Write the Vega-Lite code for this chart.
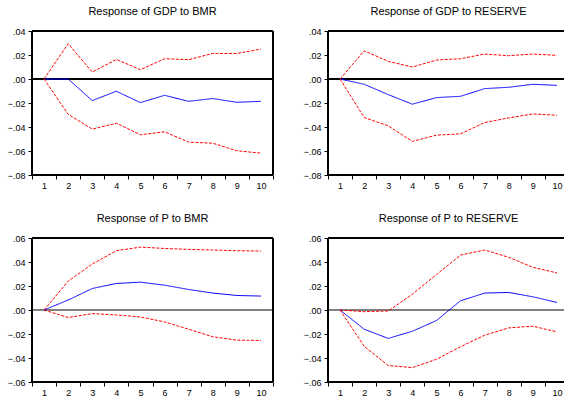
{
  "$schema": "https://vega.github.io/schema/vega-lite/v6.json",
  "autosize": {"type": "none"},
  "padding": {"left": 32, "top": 31, "right": 532, "bottom": 365},
  "background": "white",
  "config": {
    "view": {"stroke": null},
    "font": "Liberation Sans",
    "title": {"font": "Liberation Sans", "fontSize": 11, "fontWeight": "normal", "color": "black", "anchor": "middle", "baseline": "alphabetic", "offset": 10},
    "axis": {"domain": false, "grid": false, "title": null, "tickColor": "black", "tickSize": 4, "labelFont": "Liberation Sans", "labelFontSize": 9, "labelColor": "black", "tickCount": 30}
  },
  "datasets": {
    "irf": [
      {"panel": "p1", "period": 1, "series": "upper", "value": 0},
      {"panel": "p1", "period": 2, "series": "upper", "value": 0.0294},
      {"panel": "p1", "period": 3, "series": "upper", "value": 0.0058},
      {"panel": "p1", "period": 4, "series": "upper", "value": 0.0163},
      {"panel": "p1", "period": 5, "series": "upper", "value": 0.0078},
      {"panel": "p1", "period": 6, "series": "upper", "value": 0.0169},
      {"panel": "p1", "period": 7, "series": "upper", "value": 0.0161},
      {"panel": "p1", "period": 8, "series": "upper", "value": 0.0213},
      {"panel": "p1", "period": 9, "series": "upper", "value": 0.0213},
      {"panel": "p1", "period": 10, "series": "upper", "value": 0.0249},
      {"panel": "p1", "period": 1, "series": "response", "value": 0},
      {"panel": "p1", "period": 2, "series": "response", "value": 0},
      {"panel": "p1", "period": 3, "series": "response", "value": -0.018},
      {"panel": "p1", "period": 4, "series": "response", "value": -0.0102},
      {"panel": "p1", "period": 5, "series": "response", "value": -0.0197},
      {"panel": "p1", "period": 6, "series": "response", "value": -0.0136},
      {"panel": "p1", "period": 7, "series": "response", "value": -0.0186},
      {"panel": "p1", "period": 8, "series": "response", "value": -0.0163},
      {"panel": "p1", "period": 9, "series": "response", "value": -0.0194},
      {"panel": "p1", "period": 10, "series": "response", "value": -0.0186},
      {"panel": "p1", "period": 1, "series": "lower", "value": 0},
      {"panel": "p1", "period": 2, "series": "lower", "value": -0.0294},
      {"panel": "p1", "period": 3, "series": "lower", "value": -0.0418},
      {"panel": "p1", "period": 4, "series": "lower", "value": -0.0368},
      {"panel": "p1", "period": 5, "series": "lower", "value": -0.0465},
      {"panel": "p1", "period": 6, "series": "lower", "value": -0.044},
      {"panel": "p1", "period": 7, "series": "lower", "value": -0.0526},
      {"panel": "p1", "period": 8, "series": "lower", "value": -0.0535},
      {"panel": "p1", "period": 9, "series": "lower", "value": -0.0598},
      {"panel": "p1", "period": 10, "series": "lower", "value": -0.0618},

      {"panel": "p2", "period": 1, "series": "upper", "value": 0},
      {"panel": "p2", "period": 2, "series": "upper", "value": 0.0235},
      {"panel": "p2", "period": 3, "series": "upper", "value": 0.0147},
      {"panel": "p2", "period": 4, "series": "upper", "value": 0.01},
      {"panel": "p2", "period": 5, "series": "upper", "value": 0.0158},
      {"panel": "p2", "period": 6, "series": "upper", "value": 0.0169},
      {"panel": "p2", "period": 7, "series": "upper", "value": 0.0208},
      {"panel": "p2", "period": 8, "series": "upper", "value": 0.0194},
      {"panel": "p2", "period": 9, "series": "upper", "value": 0.0208},
      {"panel": "p2", "period": 10, "series": "upper", "value": 0.0197},
      {"panel": "p2", "period": 1, "series": "response", "value": 0},
      {"panel": "p2", "period": 2, "series": "response", "value": -0.0044},
      {"panel": "p2", "period": 3, "series": "response", "value": -0.013},
      {"panel": "p2", "period": 4, "series": "response", "value": -0.021},
      {"panel": "p2", "period": 5, "series": "response", "value": -0.0155},
      {"panel": "p2", "period": 6, "series": "response", "value": -0.0144},
      {"panel": "p2", "period": 7, "series": "response", "value": -0.008},
      {"panel": "p2", "period": 8, "series": "response", "value": -0.0069},
      {"panel": "p2", "period": 9, "series": "response", "value": -0.0044},
      {"panel": "p2", "period": 10, "series": "response", "value": -0.0053},
      {"panel": "p2", "period": 1, "series": "lower", "value": 0},
      {"panel": "p2", "period": 2, "series": "lower", "value": -0.0321},
      {"panel": "p2", "period": 3, "series": "lower", "value": -0.039},
      {"panel": "p2", "period": 4, "series": "lower", "value": -0.052},
      {"panel": "p2", "period": 5, "series": "lower", "value": -0.0468},
      {"panel": "p2", "period": 6, "series": "lower", "value": -0.0457},
      {"panel": "p2", "period": 7, "series": "lower", "value": -0.0363},
      {"panel": "p2", "period": 8, "series": "lower", "value": -0.0324},
      {"panel": "p2", "period": 9, "series": "lower", "value": -0.0291},
      {"panel": "p2", "period": 10, "series": "lower", "value": -0.0302},

      {"panel": "p3", "period": 1, "series": "upper", "value": 0},
      {"panel": "p3", "period": 2, "series": "upper", "value": 0.024},
      {"panel": "p3", "period": 3, "series": "upper", "value": 0.0383},
      {"panel": "p3", "period": 4, "series": "upper", "value": 0.0494},
      {"panel": "p3", "period": 5, "series": "upper", "value": 0.0524},
      {"panel": "p3", "period": 6, "series": "upper", "value": 0.0513},
      {"panel": "p3", "period": 7, "series": "upper", "value": 0.0505},
      {"panel": "p3", "period": 8, "series": "upper", "value": 0.05},
      {"panel": "p3", "period": 9, "series": "upper", "value": 0.0494},
      {"panel": "p3", "period": 10, "series": "upper", "value": 0.0491},
      {"panel": "p3", "period": 1, "series": "response", "value": 0},
      {"panel": "p3", "period": 2, "series": "response", "value": 0.0083},
      {"panel": "p3", "period": 3, "series": "response", "value": 0.0179},
      {"panel": "p3", "period": 4, "series": "response", "value": 0.0221},
      {"panel": "p3", "period": 5, "series": "response", "value": 0.0232},
      {"panel": "p3", "period": 6, "series": "response", "value": 0.0207},
      {"panel": "p3", "period": 7, "series": "response", "value": 0.0171},
      {"panel": "p3", "period": 8, "series": "response", "value": 0.0141},
      {"panel": "p3", "period": 9, "series": "response", "value": 0.0121},
      {"panel": "p3", "period": 10, "series": "response", "value": 0.0116},
      {"panel": "p3", "period": 1, "series": "lower", "value": 0},
      {"panel": "p3", "period": 2, "series": "lower", "value": -0.0063},
      {"panel": "p3", "period": 3, "series": "lower", "value": -0.003},
      {"panel": "p3", "period": 4, "series": "lower", "value": -0.0041},
      {"panel": "p3", "period": 5, "series": "lower", "value": -0.0058},
      {"panel": "p3", "period": 6, "series": "lower", "value": -0.0099},
      {"panel": "p3", "period": 7, "series": "lower", "value": -0.016},
      {"panel": "p3", "period": 8, "series": "lower", "value": -0.0223},
      {"panel": "p3", "period": 9, "series": "lower", "value": -0.0251},
      {"panel": "p3", "period": 10, "series": "lower", "value": -0.0254},

      {"panel": "p4", "period": 1, "series": "upper", "value": 0},
      {"panel": "p4", "period": 2, "series": "upper", "value": -0.0014},
      {"panel": "p4", "period": 3, "series": "upper", "value": -0.0008},
      {"panel": "p4", "period": 4, "series": "upper", "value": 0.0132},
      {"panel": "p4", "period": 5, "series": "upper", "value": 0.0295},
      {"panel": "p4", "period": 6, "series": "upper", "value": 0.0458},
      {"panel": "p4", "period": 7, "series": "upper", "value": 0.05},
      {"panel": "p4", "period": 8, "series": "upper", "value": 0.0439},
      {"panel": "p4", "period": 9, "series": "upper", "value": 0.0356},
      {"panel": "p4", "period": 10, "series": "upper", "value": 0.0309},
      {"panel": "p4", "period": 1, "series": "response", "value": 0},
      {"panel": "p4", "period": 2, "series": "response", "value": -0.016},
      {"panel": "p4", "period": 3, "series": "response", "value": -0.0237},
      {"panel": "p4", "period": 4, "series": "response", "value": -0.0177},
      {"panel": "p4", "period": 5, "series": "response", "value": -0.0088},
      {"panel": "p4", "period": 6, "series": "response", "value": 0.0077},
      {"panel": "p4", "period": 7, "series": "response", "value": 0.0141},
      {"panel": "p4", "period": 8, "series": "response", "value": 0.0146},
      {"panel": "p4", "period": 9, "series": "response", "value": 0.011},
      {"panel": "p4", "period": 10, "series": "response", "value": 0.0063},
      {"panel": "p4", "period": 1, "series": "lower", "value": 0},
      {"panel": "p4", "period": 2, "series": "lower", "value": -0.0303},
      {"panel": "p4", "period": 3, "series": "lower", "value": -0.0463},
      {"panel": "p4", "period": 4, "series": "lower", "value": -0.048},
      {"panel": "p4", "period": 5, "series": "lower", "value": -0.0411},
      {"panel": "p4", "period": 6, "series": "lower", "value": -0.0306},
      {"panel": "p4", "period": 7, "series": "lower", "value": -0.021},
      {"panel": "p4", "period": 8, "series": "lower", "value": -0.0149},
      {"panel": "p4", "period": 9, "series": "lower", "value": -0.0135},
      {"panel": "p4", "period": 10, "series": "lower", "value": -0.0182}
    ]
  },
  "bounds": "flush",
  "columns": 2,
  "spacing": {"row": 63, "column": 55},
  "concat": [
    {
      "title": "Response of GDP to BMR",
      "width": 241, "height": 144,
      "data": {"name": "irf"},
      "transform": [{"filter": "datum.panel === 'p1'"}],
      "layer": [
        {"mark": {"type": "rule", "color": "black", "strokeWidth": 1, "clip": false}, "encoding": {"y": {"datum": 0, "type": "quantitative"}}},
        {
          "mark": {"type": "line", "strokeWidth": 1},
          "encoding": {
            "x": {"field": "period", "type": "quantitative", "scale": {"domain": [0.5, 10.5], "nice": false, "zero": false},
              "axis": {"values": [0.5, 1.5, 2.5, 3.5, 4.5, 5.5, 6.5, 7.5, 8.5, 9.5, 10.5], "tickCount": 30, "labelExpr": "datum.value < 10 ? format(datum.value + 0.5, 'd') : ''", "labelOffset": 12.05, "labelFlush": false, "labelOverlap": false, "labelPadding": 2}},
            "y": {"field": "value", "type": "quantitative", "scale": {"domain": [-0.08, 0.04], "nice": false, "zero": false},
              "axis": {"values": [-0.08, -0.06, -0.04, -0.02, 0, 0.02, 0.04], "tickCount": 30, "labelExpr": "replace(format(datum.value, '.2f'), '0.', '.')", "labelFlush": false, "labelOverlap": false, "labelPadding": 3}},
            "color": {"field": "series", "type": "nominal", "scale": {"domain": ["upper", "response", "lower"], "range": ["#ff0000", "#0000ff", "#ff0000"]}, "legend": null},
            "strokeDash": {"field": "series", "type": "nominal", "scale": {"domain": ["upper", "response", "lower"], "range": [[3, 1.5], [1, 0], [3, 1.5]]}, "legend": null}
          }
        },
        {"mark": {"type": "rule", "color": "#000000", "strokeWidth": 1.5, "clip": false}, "encoding": {"y": {"datum": 0.04, "type": "quantitative"}}},
        {"mark": {"type": "rule", "color": "#000000", "strokeWidth": 1.5, "clip": false}, "encoding": {"y": {"datum": -0.08, "type": "quantitative"}}},
        {"mark": {"type": "rule", "color": "#000000", "strokeWidth": 1.5, "clip": false}, "encoding": {"x": {"datum": 0.5, "type": "quantitative"}}},
        {"mark": {"type": "rule", "color": "#000000", "strokeWidth": 1.5, "clip": false}, "encoding": {"x": {"datum": 10.5, "type": "quantitative"}}}
      ]
    },
    {
      "title": "Response of GDP to RESERVE",
      "width": 241, "height": 144,
      "data": {"name": "irf"},
      "transform": [{"filter": "datum.panel === 'p2'"}],
      "layer": [
        {"mark": {"type": "rule", "color": "black", "strokeWidth": 1, "clip": false}, "encoding": {"y": {"datum": 0, "type": "quantitative"}}},
        {
          "mark": {"type": "line", "strokeWidth": 1},
          "encoding": {
            "x": {"field": "period", "type": "quantitative", "scale": {"domain": [0.5, 10.5], "nice": false, "zero": false},
              "axis": {"values": [0.5, 1.5, 2.5, 3.5, 4.5, 5.5, 6.5, 7.5, 8.5, 9.5, 10.5], "tickCount": 30, "labelExpr": "datum.value < 10 ? format(datum.value + 0.5, 'd') : ''", "labelOffset": 12.05, "labelFlush": false, "labelOverlap": false, "labelPadding": 2}},
            "y": {"field": "value", "type": "quantitative", "scale": {"domain": [-0.08, 0.04], "nice": false, "zero": false},
              "axis": {"values": [-0.08, -0.06, -0.04, -0.02, 0, 0.02, 0.04], "tickCount": 30, "labelExpr": "replace(format(datum.value, '.2f'), '0.', '.')", "labelFlush": false, "labelOverlap": false, "labelPadding": 3}},
            "color": {"field": "series", "type": "nominal", "scale": {"domain": ["upper", "response", "lower"], "range": ["#ff0000", "#0000ff", "#ff0000"]}, "legend": null},
            "strokeDash": {"field": "series", "type": "nominal", "scale": {"domain": ["upper", "response", "lower"], "range": [[3, 1.5], [1, 0], [3, 1.5]]}, "legend": null}
          }
        },
        {"mark": {"type": "rule", "color": "#000000", "strokeWidth": 1.5, "clip": false}, "encoding": {"y": {"datum": 0.04, "type": "quantitative"}}},
        {"mark": {"type": "rule", "color": "#000000", "strokeWidth": 1.5, "clip": false}, "encoding": {"y": {"datum": -0.08, "type": "quantitative"}}},
        {"mark": {"type": "rule", "color": "#000000", "strokeWidth": 1.5, "clip": false}, "encoding": {"x": {"datum": 0.5, "type": "quantitative"}}},
        {"mark": {"type": "rule", "color": "#000000", "strokeWidth": 1.5, "clip": false}, "encoding": {"x": {"datum": 10.5, "type": "quantitative"}}}
      ]
    },
    {
      "title": "Response of P to BMR",
      "width": 241, "height": 144,
      "data": {"name": "irf"},
      "transform": [{"filter": "datum.panel === 'p3'"}],
      "layer": [
        {"mark": {"type": "rule", "color": "#808080", "strokeWidth": 2, "clip": false}, "encoding": {"y": {"datum": 0, "type": "quantitative"}}},
        {
          "mark": {"type": "line", "strokeWidth": 1},
          "encoding": {
            "x": {"field": "period", "type": "quantitative", "scale": {"domain": [0.5, 10.5], "nice": false, "zero": false},
              "axis": {"values": [0.5, 1.5, 2.5, 3.5, 4.5, 5.5, 6.5, 7.5, 8.5, 9.5, 10.5], "tickCount": 30, "labelExpr": "datum.value < 10 ? format(datum.value + 0.5, 'd') : ''", "labelOffset": 12.05, "labelFlush": false, "labelOverlap": false, "labelPadding": 2}},
            "y": {"field": "value", "type": "quantitative", "scale": {"domain": [-0.06, 0.06], "nice": false, "zero": false},
              "axis": {"values": [-0.06, -0.04, -0.02, 0, 0.02, 0.04, 0.06], "tickCount": 30, "labelExpr": "replace(format(datum.value, '.2f'), '0.', '.')", "labelFlush": false, "labelOverlap": false, "labelPadding": 3}},
            "color": {"field": "series", "type": "nominal", "scale": {"domain": ["upper", "response", "lower"], "range": ["#ff0000", "#0000ff", "#ff0000"]}, "legend": null},
            "strokeDash": {"field": "series", "type": "nominal", "scale": {"domain": ["upper", "response", "lower"], "range": [[3, 1.5], [1, 0], [3, 1.5]]}, "legend": null}
          }
        },
        {"mark": {"type": "rule", "color": "#000000", "strokeWidth": 1.5, "clip": false}, "encoding": {"y": {"datum": 0.06, "type": "quantitative"}}},
        {"mark": {"type": "rule", "color": "#000000", "strokeWidth": 1.5, "clip": false}, "encoding": {"y": {"datum": -0.06, "type": "quantitative"}}},
        {"mark": {"type": "rule", "color": "#000000", "strokeWidth": 1.5, "clip": false}, "encoding": {"x": {"datum": 0.5, "type": "quantitative"}}},
        {"mark": {"type": "rule", "color": "#000000", "strokeWidth": 1.5, "clip": false}, "encoding": {"x": {"datum": 10.5, "type": "quantitative"}}}
      ]
    },
    {
      "title": "Response of P to RESERVE",
      "width": 241, "height": 144,
      "data": {"name": "irf"},
      "transform": [{"filter": "datum.panel === 'p4'"}],
      "layer": [
        {"mark": {"type": "rule", "color": "#808080", "strokeWidth": 2, "clip": false}, "encoding": {"y": {"datum": 0, "type": "quantitative"}}},
        {
          "mark": {"type": "line", "strokeWidth": 1},
          "encoding": {
            "x": {"field": "period", "type": "quantitative", "scale": {"domain": [0.5, 10.5], "nice": false, "zero": false},
              "axis": {"values": [0.5, 1.5, 2.5, 3.5, 4.5, 5.5, 6.5, 7.5, 8.5, 9.5, 10.5], "tickCount": 30, "labelExpr": "datum.value < 10 ? format(datum.value + 0.5, 'd') : ''", "labelOffset": 12.05, "labelFlush": false, "labelOverlap": false, "labelPadding": 2}},
            "y": {"field": "value", "type": "quantitative", "scale": {"domain": [-0.06, 0.06], "nice": false, "zero": false},
              "axis": {"values": [-0.06, -0.04, -0.02, 0, 0.02, 0.04, 0.06], "tickCount": 30, "labelExpr": "replace(format(datum.value, '.2f'), '0.', '.')", "labelFlush": false, "labelOverlap": false, "labelPadding": 3}},
            "color": {"field": "series", "type": "nominal", "scale": {"domain": ["upper", "response", "lower"], "range": ["#ff0000", "#0000ff", "#ff0000"]}, "legend": null},
            "strokeDash": {"field": "series", "type": "nominal", "scale": {"domain": ["upper", "response", "lower"], "range": [[3, 1.5], [1, 0], [3, 1.5]]}, "legend": null}
          }
        },
        {"mark": {"type": "rule", "color": "#000000", "strokeWidth": 1.5, "clip": false}, "encoding": {"y": {"datum": 0.06, "type": "quantitative"}}},
        {"mark": {"type": "rule", "color": "#000000", "strokeWidth": 1.5, "clip": false}, "encoding": {"y": {"datum": -0.06, "type": "quantitative"}}},
        {"mark": {"type": "rule", "color": "#000000", "strokeWidth": 1.5, "clip": false}, "encoding": {"x": {"datum": 0.5, "type": "quantitative"}}},
        {"mark": {"type": "rule", "color": "#000000", "strokeWidth": 1.5, "clip": false}, "encoding": {"x": {"datum": 10.5, "type": "quantitative"}}}
      ]
    }
  ]
}
